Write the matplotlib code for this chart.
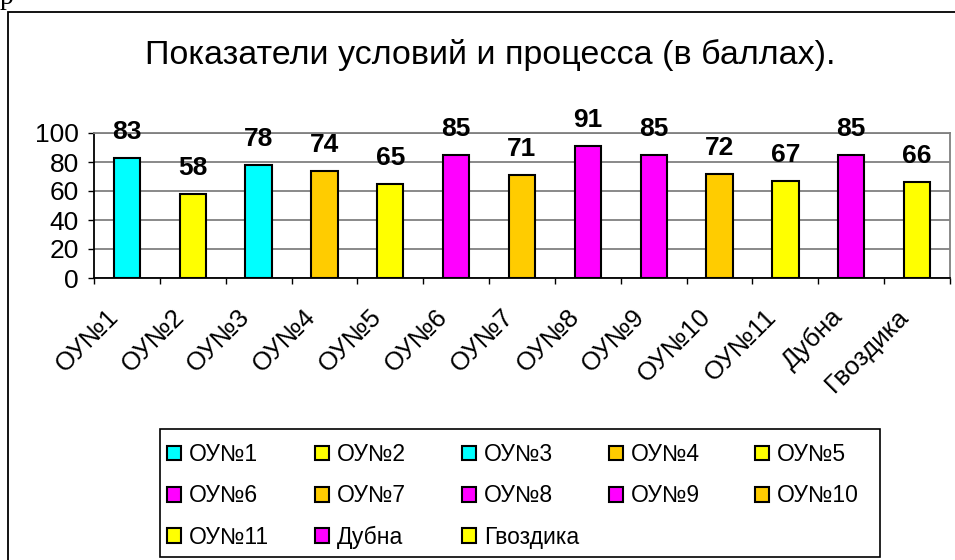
import matplotlib
matplotlib.use("Agg")
import matplotlib.pyplot as plt
from matplotlib.patches import Rectangle, Patch
from matplotlib.transforms import ScaledTranslation
from matplotlib import font_manager

plt.rcParams['font.family'] = ['Liberation Sans', 'DejaVu Sans']

categories = ["ОУ№1", "ОУ№2", "ОУ№3", "ОУ№4", "ОУ№5", "ОУ№6", "ОУ№7",
              "ОУ№8", "ОУ№9", "ОУ№10", "ОУ№11", "Дубна", "Гвоздика"]
values = [83, 58, 78, 74, 65, 85, 71, 91, 85, 72, 67, 85, 66]
CYAN, YELLOW, ORANGE, MAGENTA = "#00FFFF", "#FFFF00", "#FFCC00", "#FF00FF"
bar_colors = [CYAN, YELLOW, CYAN, ORANGE, YELLOW, MAGENTA, ORANGE,
              MAGENTA, MAGENTA, ORANGE, YELLOW, MAGENTA, YELLOW]
yticks = [0, 20, 40, 60, 80, 100]
title = "Показатели условий и процесса (в баллах)."

W, H = 955, 560
fig = plt.figure(figsize=(W / 100, H / 100), dpi=100)
fig.patch.set_facecolor("white")

# outer chart frame (cut on right/bottom)
fig.patches.append(Rectangle((8 / W, -0.05), 1.2, 1 - 12 / H + 0.05,
                             transform=fig.transFigure, fill=False,
                             edgecolor="black", linewidth=1.3))
# clipped document letter at top-left
fig.text(0.0, 1 + 2 / H, "р", fontsize=20, family="Liberation Serif",
         ha="left", va="center")

ax = fig.add_axes([94 / W, 1 - 278 / H, (950 - 94) / W, (278 - 133) / H])
x = list(range(len(categories)))
bars = ax.bar(x, values, width=0.4, color=bar_colors, edgecolor="black",
              linewidth=1.5, zorder=3)
for xi, v in zip(x, values):
    ax.annotate(str(v), (xi, v), xytext=(0, 10), textcoords="offset points",
                ha="center", va="bottom", fontsize=19, fontweight="bold",
                clip_on=False, zorder=5)

ax.set_xlim(-0.5, len(categories) - 0.5)
ax.set_ylim(0, 100)
ax.set_yticks(yticks)
ax.tick_params(axis="y", labelsize=19, length=4.5, width=1, pad=6.5)
ax.set_xticks(x)
ax.set_xticklabels(categories, rotation=45, ha="right", va="top",
                   rotation_mode="anchor", fontsize=18.5)
ax.tick_params(axis="x", which="major", length=0, pad=19)
offset = ScaledTranslation(-21 / 100, 0, fig.dpi_scale_trans)
for lab in ax.get_xticklabels():
    lab.set_transform(lab.get_transform() + offset)
ax.set_xticks([i - 0.5 for i in range(len(categories) + 1)], minor=True)
ax.tick_params(axis="x", which="minor", length=4.5, width=1, direction="out")
ax.grid(axis="y", color="#808080", linewidth=1.3, zorder=0)
ax.set_axisbelow(True)
for s in ["top", "right"]:
    ax.spines[s].set_color("#808080")
    ax.spines[s].set_linewidth(1.3)
for s in ["left", "bottom"]:
    ax.spines[s].set_color("black")
    ax.spines[s].set_linewidth(1.3)

fig.text(490 / W, 1 - 55 / H, title, fontsize=24.5, ha="center", va="center")

# legend box
fig.patches.append(Rectangle((160 / W, 1 - 557 / H), 720 / W, 128 / H,
                             transform=fig.transFigure, fill=False,
                             edgecolor="black", linewidth=1.2))
handles = [Patch(facecolor=c, edgecolor="black", linewidth=1.5) for c in bar_colors]
col_x = [167, 315, 462, 609, 755]
ncol = 5
for c in range(ncol):
    idx = list(range(c, len(categories), ncol))
    fig.legend([handles[i] for i in idx], [categories[i] for i in idx],
               loc="upper left", bbox_to_anchor=(col_x[c] / W, 1 - 443 / H),
               frameon=False, prop={"size": 16.5},
               handlelength=0.62, handleheight=0.62,
               handletextpad=0.35, labelspacing=0.8, borderpad=0, borderaxespad=0)

fig.savefig("out.png", dpi=100, facecolor="white")
